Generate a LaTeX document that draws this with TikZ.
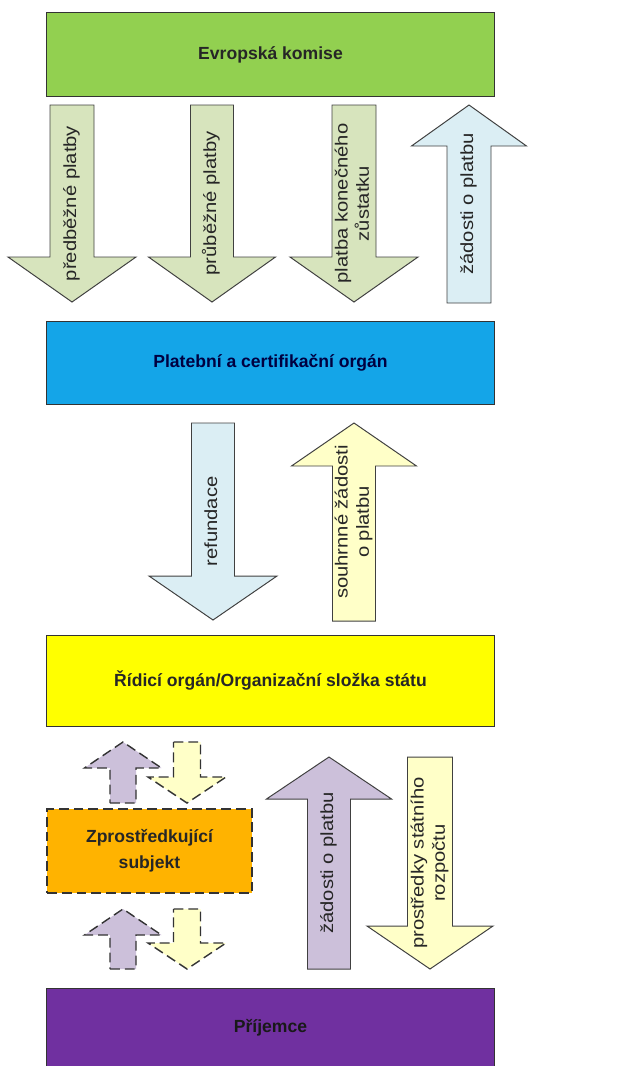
\documentclass[tikz,border=0pt]{standalone}
\usepackage{fontspec}
\setmainfont{Liberation Sans}
\usepackage{graphicx}
\usepackage{tikz}

\definecolor{ecgreen}{HTML}{92D050}
\definecolor{olivelight}{HTML}{D7E4BD}
\definecolor{skylight}{HTML}{DBEEF4}
\definecolor{pcoblue}{HTML}{14A5E8}
\definecolor{roylw}{HTML}{FFFF00}
\definecolor{cream}{HTML}{FFFFC8}
\definecolor{lavender}{HTML}{CCC0DA}
\definecolor{zsorange}{HTML}{FFB300}
\definecolor{prjpurple}{HTML}{7030A0}

\tikzset{
  box/.style={draw=black!80, line width=0.7pt, minimum width=11.175cm, minimum height=2.075cm,
    font=\fontsize{12.5}{18.5}\selectfont\bfseries, text=black!85, align=center},
  arrowbody/.style={draw=black!75, line width=0.7pt},
  dashedline/.style={draw=black!80, line width=1pt, dash pattern=on 7pt off 3.5pt},
  dashedbody/.style={arrowbody, dashedline},
  rotlabel/.style={rotate=90, font=\fontsize{12.5}{15}\selectfont, text=black!85, inner sep=0pt}
}

\newcommand{\stretchlbl}[1]{\scalebox{1.15}[1]{\begin{tabular}{@{}c@{}}#1\end{tabular}}}
% name, style, centre x, tail y, tip y, half shaft, half head, head base y, label
\newcommand{\flowarrow}[9]{%
  \draw[#2] (#3-#6,#4) -- (#3+#6,#4) -- (#3+#6,#8) -- (#3+#7,#8) -- (#3,#5)
    -- (#3-#7,#8) -- (#3-#6,#8) -- cycle;
  \node[rotlabel] (#1) at (#3,{(#4+#5)/2}) {\stretchlbl{#9}};
}

\begin{document}
\begin{tikzpicture}[x=0.025cm, y=-0.025cm]
  \useasboundingbox (0,0) rectangle (622,1066);

  % boxes
  \node[box, fill=ecgreen] (ek) at (270.5,54.5) {Evropská komise};
  \node[box, fill=pcoblue, text=blue!25!black] (pco) at (270.5,362.5) {Platební a certifikační orgán};
  \node[box, fill=roylw, minimum height=2.275cm] (ro) at (270.5,680.5) {Řídicí orgán/Organizační složka státu};
  \node[box, fill=zsorange, dashedline,
    minimum width=5.125cm, minimum height=2.1cm] (zs) at (149.5,851) {Zprostředkující\\subjekt};
  \node[box, fill=prjpurple, minimum height=2cm, text=black!90] (prj) at (270.5,1028) {Příjemce};

  % EK <-> PCO
  \flowarrow{pp}{arrowbody, fill=olivelight}{72}{105}{302}{22}{64}{257}{předběžné platby}
  \flowarrow{prp}{arrowbody, fill=olivelight}{212}{105}{302}{21.5}{63.5}{257}{průběžné platby}
  \flowarrow{pkz}{arrowbody, fill=olivelight}{354}{105}{302}{22}{64}{257}{platba konečného\\zůstatku}
  \flowarrow{zop}{arrowbody, fill=skylight}{469}{303}{105}{22}{57.5}{146}{žádosti o platbu}

  % PCO <-> RO
  \flowarrow{ref}{arrowbody, fill=skylight}{213}{423}{620}{21.5}{64}{576}{refundace}
  \flowarrow{szp}{arrowbody, fill=cream}{354}{621}{423}{21.5}{62.5}{466}{souhrnné žádosti\\o platbu}

  % RO <-> ZS <-> prijemce
  \flowarrow{zsup1}{dashedbody, fill=lavender}{123}{803}{742}{13}{38.5}{768}{}
  \flowarrow{zsdn1}{dashedbody, fill=cream}{187}{742}{803}{13.5}{39}{777}{}
  \flowarrow{zsup2}{dashedbody, fill=lavender}{123}{969}{909}{13}{38.5}{935}{}
  \flowarrow{zsdn2}{dashedbody, fill=cream}{187}{909}{969}{13.5}{39}{943}{}

  % RO <-> prijemce
  \flowarrow{zopb}{arrowbody, fill=lavender}{329}{969}{757}{21.5}{62.5}{799}{žádosti o platbu}
  \flowarrow{psr}{arrowbody, fill=cream}{430}{757}{969}{22.5}{63}{926}{prostředky státního\\rozpočtu}
\end{tikzpicture}
\end{document}
